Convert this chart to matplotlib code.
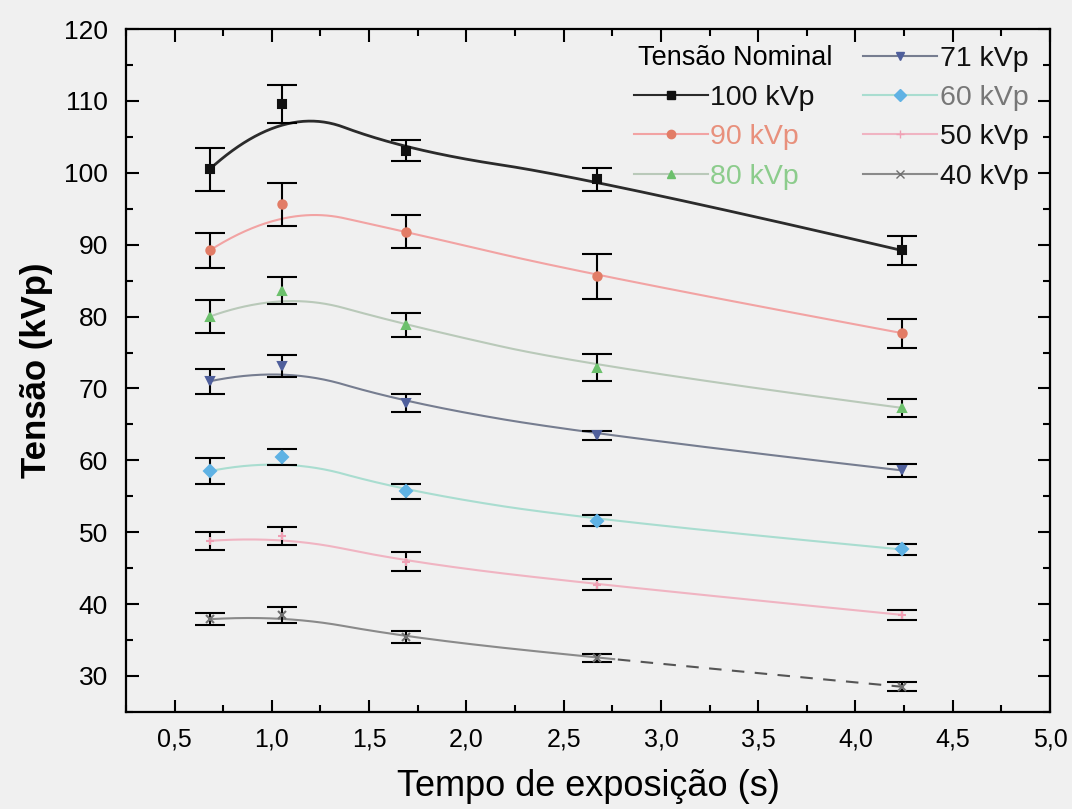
import matplotlib
matplotlib.use("Agg")
import matplotlib.pyplot as plt
from matplotlib.lines import Line2D
from matplotlib.ticker import MultipleLocator, FuncFormatter
import numpy as np

plt.rcParams['font.family'] = ['Liberation Sans', 'DejaVu Sans']

# exposure times (s)
tempo = [0.68, 1.05, 1.69, 2.67, 4.24]

# measured voltage (kVp) and error per nominal voltage
v100 = [100.5, 109.6, 103.1, 99.1, 89.2]
e100 = [3.0, 2.6, 1.5, 1.6, 1.95]
v90 = [89.2, 95.6, 91.8, 85.6, 77.7]
e90 = [2.5, 3.0, 2.3, 3.1, 2.0]
v80 = [80.0, 83.6, 78.8, 72.9, 67.3]
e80 = [2.3, 1.85, 1.7, 1.85, 1.25]
v71 = [71.0, 73.1, 68.0, 63.5, 58.6]
e71 = [1.75, 1.5, 1.3, 0.6, 0.95]
v60 = [58.5, 60.5, 55.7, 51.6, 47.6]
e60 = [1.85, 1.15, 1.05, 0.75, 0.8]
v50 = [48.8, 49.5, 45.9, 42.7, 38.5]
e50 = [1.3, 1.25, 1.35, 0.75, 0.75]
v40 = [37.9, 38.5, 35.4, 32.5, 28.5]
e40 = [0.8, 1.1, 0.85, 0.6, 0.65]

labels = ["100 kVp", "90 kVp", "80 kVp", "71 kVp", "60 kVp", "50 kVp", "40 kVp"]
values = [v100, v90, v80, v71, v60, v50, v40]
errors = [e100, e90, e80, e71, e60, e50, e40]

line_colors = ['#2b2b2b', '#f2a3a3', '#b9c9b9', '#767d90', '#a9ddd0', '#f0b4c2', '#8a8a8a']
marker_colors = ['#111111', '#e27c66', '#6cc06c', '#4f5f9c', '#5fb2e4', '#f0a0b4', '#707070']
markers = ['s', 'o', '^', 'v', 'D', '+', 'x']
text_colors = ['#111111', '#e8907c', '#8ccc8c', '#111111', '#777777', '#111111', '#111111']
line_widths = [2.0, 1.5, 1.5, 1.5, 1.5, 1.5, 1.5]


def basis(i, k, u, t):
    if k == 0:
        return ((t[i] <= u) & (u < t[i + 1])).astype(float)
    a = 0.0
    b = 0.0
    if t[i + k] != t[i]:
        a = (u - t[i]) / (t[i + k] - t[i]) * basis(i, k - 1, u, t)
    if t[i + k + 1] != t[i + 1]:
        b = (t[i + k + 1] - u) / (t[i + k + 1] - t[i + 1]) * basis(i + 1, k - 1, u, t)
    return a + b


def bspline(px, py, n=300, k=2):
    # clamped B-spline with the data points as control points (Origin-style "B-Spline" connect)
    m = len(px)
    t = np.concatenate([np.zeros(k), np.linspace(0, 1, m - k + 1), np.ones(k)])
    u = np.linspace(0, 1 - 1e-9, n)
    bx = np.zeros(n)
    by = np.zeros(n)
    for i in range(m):
        b = basis(i, k, u, t)
        bx += b * px[i]
        by += b * py[i]
    return bx, by


fig = plt.figure(figsize=(10.72, 8.09), dpi=100, facecolor='#f0f0f0')
ax = fig.add_axes([0.1175, 0.12, 0.862, 0.844])
ax.set_facecolor('#f0f0f0')

for vals, errs, lc, mc, mk, lw, lab in zip(values, errors, line_colors, marker_colors,
                                          markers, line_widths, labels):
    bx, by = bspline(tempo, vals)
    if lab == "40 kVp":
        ax.plot(bx[bx <= 2.77], by[bx <= 2.77], color=lc, lw=lw, zorder=2)
        ax.plot(bx[bx >= 2.77], by[bx >= 2.77], color='#555555', lw=lw, ls=(0, (6, 5)), zorder=2)
    else:
        ax.plot(bx, by, color=lc, lw=lw, zorder=2)
    ax.errorbar(tempo, vals, yerr=errs, fmt='none', ecolor='black', elinewidth=1.5,
                capsize=11, capthick=1.5, zorder=3)
    ax.plot(tempo, vals, ls='none', marker=mk, ms=6, mfc=mc, mec=mc, mew=1.5, zorder=4)

ax.set_xlim(0.25, 5.0)
ax.set_ylim(25, 120)
ax.xaxis.set_major_locator(MultipleLocator(0.5))
ax.xaxis.set_minor_locator(MultipleLocator(0.25))
ax.yaxis.set_major_locator(MultipleLocator(10))
ax.yaxis.set_minor_locator(MultipleLocator(5))
ax.xaxis.set_major_formatter(FuncFormatter(lambda v, p: f"{v:.1f}".replace('.', ',')))
ax.set_yticks(np.arange(30, 121, 10))

ax.tick_params(which='both', direction='in', top=True, right=True, width=1.5)
ax.tick_params(which='major', length=9)
ax.tick_params(which='minor', length=5)
ax.tick_params(axis='x', labelsize=18, pad=11)
ax.tick_params(axis='y', labelsize=19, pad=13)
for s in ax.spines.values():
    s.set_linewidth(1.6)

ax.set_xlabel("Tempo de exposição (s)", fontsize=26, labelpad=13)
ax.set_ylabel("Tensão (kVp)", fontsize=25, fontweight='bold', labelpad=8)

# legend: header in first cell, 100/90/80 below, 71/60/50/40 in the second column
handles = [Line2D([], [], alpha=0)]
for lc, mc, mk in zip(line_colors, marker_colors, markers):
    handles.append(Line2D([], [], color=lc, lw=1.5, marker=mk, ms=6, mfc=mc, mec=mc))
leg = ax.legend(handles, [""] + labels, ncol=2, loc='upper right',
                bbox_to_anchor=(1.005, 1.0125), frameon=False, fontsize=20.5,
                handlelength=2.6, handletextpad=0.1, columnspacing=1.7,
                labelspacing=0.46)
for txt, c in zip(leg.get_texts()[1:], text_colors):
    txt.set_color(c)
ax.text(0.554, 0.958, "Tensão Nominal", transform=ax.transAxes, fontsize=19.5,
        ha='left', va='center')

fig.savefig("out.png", dpi=100, facecolor=fig.get_facecolor())
